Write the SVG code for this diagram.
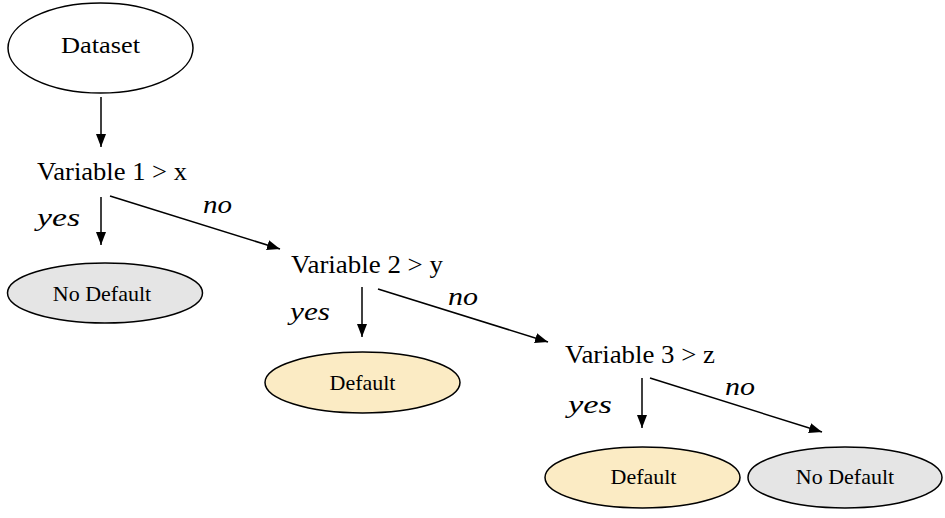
<svg xmlns="http://www.w3.org/2000/svg" width="945" height="518" viewBox="0 0 945 518">
  <defs>
    <marker id="ah" markerUnits="userSpaceOnUse" markerWidth="14" markerHeight="11" refX="13" refY="5" orient="auto">
      <path d="M0,0 L13,5 L0,10 z" fill="#000"/>
    </marker>
    <style>
      .bg { fill: #ffffff; }
      .ell { stroke: #000; stroke-width: 1.5; }
      .white { fill: #ffffff; }
      .gray { fill: #e5e5e5; }
      .yellow { fill: #fbebc4; }
      .lbl { fill: #000; }
      .cond { font-size: 26px; }
      .node { font-size: 22px; text-anchor: middle; }
      .it { font-size: 26px; font-style: italic; }
      .conn line { stroke: #000; stroke-width: 1.5; marker-end: url(#ah); }
    </style>
  </defs>
  <rect class="bg" x="0" y="0" width="945" height="518"/>

  <g font-family="'Liberation Serif', 'Times New Roman', 'DejaVu Serif', serif">
  <g id="dataset">
    <ellipse class="ell white" cx="100.5" cy="48" rx="92.5" ry="45"/>
    <text class="lbl" x="61" y="52.5" font-size="23" textLength="79" lengthAdjust="spacingAndGlyphs">Dataset</text>
  </g>

  <g id="var1">
    <text class="lbl cond" x="37" y="180" textLength="150" lengthAdjust="spacingAndGlyphs">Variable 1 &gt; x</text>
  </g>

  <g id="nodefault1">
    <ellipse class="ell gray" cx="105" cy="293" rx="97.5" ry="30"/>
    <text class="lbl node" x="102" y="300.5">No Default</text>
  </g>

  <g id="var2">
    <text class="lbl cond" x="291" y="273" textLength="152" lengthAdjust="spacingAndGlyphs">Variable 2 &gt; y</text>
  </g>

  <g id="default2">
    <ellipse class="ell yellow" cx="362.5" cy="382.5" rx="97.5" ry="30.5"/>
    <text class="lbl node" x="362.5" y="390">Default</text>
  </g>

  <g id="var3">
    <text class="lbl cond" x="565" y="363" textLength="150" lengthAdjust="spacingAndGlyphs">Variable 3 &gt; z</text>
  </g>

  <g id="default3">
    <ellipse class="ell yellow" cx="642.5" cy="477.5" rx="97.5" ry="30.5"/>
    <text class="lbl node" x="643.5" y="484">Default</text>
  </g>

  <g id="nodefault3">
    <ellipse class="ell gray" cx="845" cy="477.5" rx="97" ry="30.5"/>
    <text class="lbl node" x="845" y="484">No Default</text>
  </g>

  <g id="connectors" class="conn">
    <line x1="101" y1="97" x2="101" y2="147"/>
    <line x1="101" y1="197" x2="101" y2="245"/>
    <line x1="110" y1="196" x2="280" y2="249"/>
    <line x1="362" y1="287" x2="362" y2="337"/>
    <line x1="378" y1="289" x2="548" y2="342"/>
    <line x1="642" y1="378" x2="642" y2="428"/>
    <line x1="650" y1="378" x2="822" y2="432"/>
    <text class="lbl it" x="37" y="226" textLength="43" lengthAdjust="spacingAndGlyphs">yes</text>
    <text class="lbl it" x="203" y="213" textLength="29" lengthAdjust="spacingAndGlyphs">no</text>
    <text class="lbl it" x="290" y="320" textLength="40" lengthAdjust="spacingAndGlyphs">yes</text>
    <text class="lbl it" x="448" y="305" textLength="30" lengthAdjust="spacingAndGlyphs">no</text>
    <text class="lbl it" x="568" y="413" textLength="44" lengthAdjust="spacingAndGlyphs">yes</text>
    <text class="lbl it" x="725" y="395" textLength="30" lengthAdjust="spacingAndGlyphs">no</text>
  </g>
  </g>
</svg>
